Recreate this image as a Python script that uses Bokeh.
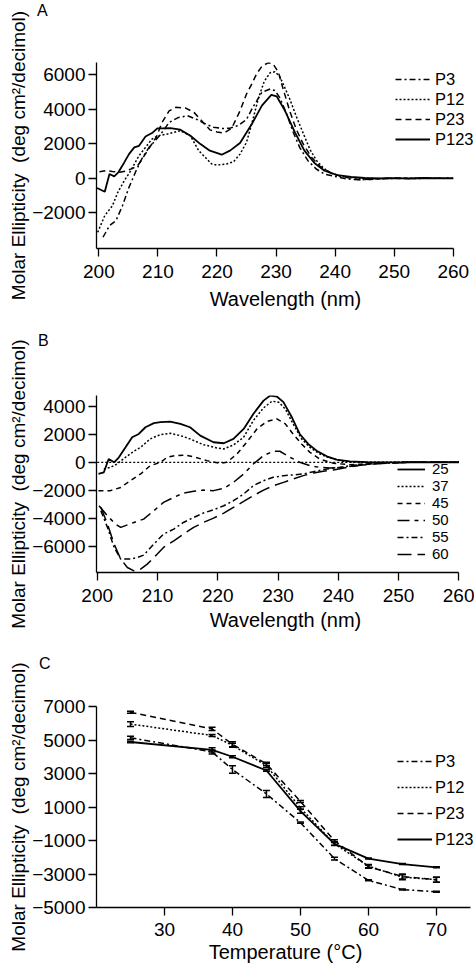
from bokeh.plotting import figure
from bokeh.layouts import column
from bokeh.models import (Legend, LegendItem, Whisker, TeeHead, ColumnDataSource,
                          FixedTicker, Range1d, Div)
from bokeh.embed import file_html
from bokeh.resources import INLINE

FONT = "Liberation Sans"
YLABEL = "Molar Ellipticity\u00a0 (deg cm\u00b2/decimol)"

# ---------------- Panel A data ----------------
a_p3_wl = [200.7, 201.8, 202.9, 204.0, 205.1, 206.3, 207.4, 208.5, 209.3, 210.5, 211.9, 213.5,
           215.0, 216.6, 218.0, 219.4, 220.8, 222.2, 223.6, 225.0, 225.9, 227.6, 229.0, 229.8,
           230.6, 231.8, 232.9, 234.0, 235.4, 236.8, 238.2, 239.9, 242.1, 244.3, 246.0, 248.0,
           250.0, 252.0, 254.0, 256.0, 258.0, 260.0]
a_p3_val = [-3400, -2730, -2440, -1580, -520, 440, 1210, 1790, 2080, 2560, 3230, 3520,
            3615, 3400, 3150, 2950, 2880, 2900, 3050, 3400, 4000, 4970, 5160, 5070,
            4680, 3720, 2660, 1790, 1020, 540, 250, 115, -40, -80, -60, -20,
            0, 20, -10, 10, 0, 0]

a_p12_wl = [199.8, 201.0, 202.3, 203.2, 204.3, 205.4, 206.8, 207.9, 209.0, 210.0, 211.6, 213.8,
            215.5, 216.9, 218.3, 219.1, 220.0, 221.6, 222.8, 223.9, 225.0, 226.0, 227.0, 228.0,
            229.0, 229.8, 230.6, 231.4, 232.3, 233.4, 234.6, 235.7, 236.8, 238.0, 239.3, 241.0,
            243.0, 245.0, 247.5, 250.0, 252.5, 255.0, 257.5, 260.0]
a_p12_val = [-3115, -2150, -1580, -810, -135, 440, 1310, 1790, 2270, 2460, 2560, 2750,
             2460, 1600, 1115, 830, 770, 830, 960, 1400, 2080, 3300, 4600, 5600,
             6100, 6150, 5900, 5300, 4600, 3600, 2600, 1700, 1050, 600, 300, 115,
             30, 0, -20, 10, 0, 20, 0, 0]

a_p23_wl = [200.1, 201.2, 202.3, 203.5, 204.5, 205.5, 206.5, 207.4, 208.6, 209.7, 210.7, 211.9,
            213.0, 214.7, 216.1, 217.4, 218.8, 220.0, 221.2, 222.5, 223.9, 225.0, 225.9, 226.7,
            227.6, 228.7, 229.5, 230.4, 231.2, 232.3, 233.4, 234.6, 236.0, 237.6, 239.3, 241.0,
            242.7, 244.3, 246.6, 249.0, 251.5, 254.0, 256.5, 260.0]
a_p23_val = [380, 450, 400, 350, 420, 550, 700, 1150, 1790, 2365, 3230, 3900,
             4100, 4060, 3810, 3330, 2800, 2680, 2620, 2900, 3900, 4870, 5450, 6030,
             6470, 6680, 6610, 6130, 5160, 3910, 2850, 1985, 1215, 640, 310, 115,
             0, -80, -20, 10, -10, 0, 10, 0]

a_p123_wl = [199.7, 201.0, 201.8, 202.6, 203.3, 204.3, 205.1, 206.0, 206.8, 207.9, 209.0, 209.9,
             210.7, 212.1, 213.8, 215.5, 217.2, 218.8, 220.8, 222.2, 223.9, 225.9, 227.6, 229.2,
             230.1, 231.5, 233.2, 234.8, 236.5, 238.2, 240.4, 242.7, 245.0, 247.5, 250.0, 252.5,
             255.0, 257.5, 260.0]
a_p123_val = [-560, -770, 250, 115, 350, 920, 1400, 1790, 1880, 2420, 2615, 2885,
              2885, 2900, 2810, 2460, 1980, 1600, 1365, 1600, 2040, 3140, 4200, 4820,
              4740, 3910, 2660, 1600, 890, 440, 190, 80, 20, 0, 10, -10,
              20, 0, 0]

a_xticks = [200, 210, 220, 230, 240, 250, 260]
a_yticks = [-2000, 0, 2000, 4000, 6000]

# ---------------- Panel B data ----------------
b_t25_wl = [200.2, 201.1, 201.9, 202.8, 203.6, 204.7, 205.8, 206.9, 208.0, 209.4, 210.5, 212.1,
            213.8, 215.4, 217.1, 219.3, 221.0, 222.6, 224.3, 225.9, 227.6, 228.7, 229.8, 230.9,
            232.3, 233.6, 235.0, 236.4, 238.1, 239.7, 241.9, 244.7, 248.0, 252.0, 256.0, 260.0]
b_t25_val = [-830, -710, 240, 0, 360, 1070, 1790, 2020, 2500, 2790, 2860, 2900,
             2740, 2500, 1900, 1430, 1360, 1670, 2380, 3450, 4400, 4760, 4690, 4290,
             3210, 2020, 1310, 830, 430, 190, 70, 20, 0, 0, 0, 0]

b_t37_wl = [201.1, 202.2, 203.3, 204.7, 206.1, 207.2, 208.8, 210.5, 212.1, 213.8, 215.4, 217.6,
            219.9, 221.0, 222.6, 224.3, 225.9, 227.6, 229.0, 230.1, 231.2, 232.5, 233.9, 235.3,
            236.9, 238.6, 240.8, 244.0, 248.0, 252.0, 256.0, 260.0]
b_t37_val = [-480, -360, -120, 360, 790, 1070, 1670, 1980, 2070, 1900, 1670, 1260,
             1020, 950, 1240, 1790, 2980, 3880, 4360, 4290, 3810, 2740, 1670, 1070,
             600, 310, 70, 0, 0, 0, 0, 0]

b_t45_wl = [200.2, 202.2, 203.9, 205.5, 207.2, 208.8, 210.5, 211.6, 213.0, 214.6, 216.3, 218.2,
            220.4, 221.5, 223.2, 224.8, 226.5, 228.1, 229.8, 231.2, 232.5, 233.9, 235.3, 236.9,
            239.2, 241.9, 244.7, 247.4, 251.0, 255.0, 260.0]
b_t45_val = [-2020, -2020, -1790, -1310, -830, -240, 0, 360, 480, 520, 360, 120,
             -70, 0, 600, 1430, 2380, 2900, 3100, 2740, 2020, 1310, 710, 240,
             -70, -170, -120, -50, 0, 0, 0]

b_t50_wl = [200.3, 201.7, 203.0, 203.9, 206.1, 207.7, 209.4, 211.0, 212.7, 214.3, 216.0, 217.6,
            219.3, 221.0, 222.6, 224.3, 225.9, 227.6, 229.2, 230.3, 232.0, 233.6, 235.3, 236.9,
            238.6, 240.8, 242.9, 245.2, 248.0, 252.0, 256.0, 260.0]
b_t50_val = [-3100, -3810, -4400, -4640, -4290, -4050, -3450, -2860, -2500, -2190, -2070, -1980,
             -2020, -1860, -1430, -830, -120, 480, 790, 790, 360, 0, -240, -360,
             -400, -360, -240, -120, -30, 0, 0, 0]

b_t55_wl = [200.6, 201.7, 202.8, 203.9, 205.5, 206.6, 207.7, 209.4, 211.0, 212.7, 214.3, 216.0,
            217.6, 219.3, 221.0, 222.6, 224.3, 225.9, 227.6, 229.2, 230.9, 232.5, 234.2, 235.9,
            238.1, 240.3, 242.5, 244.7, 247.4, 251.0, 255.0, 260.0]
b_t55_val = [-3450, -4640, -6070, -6900, -6900, -6790, -6620, -5830, -5120, -4760, -4290, -3930,
             -3620, -3380, -3100, -2740, -2260, -1670, -1310, -1070, -950, -900, -830, -670,
             -480, -360, -210, -120, -70, 0, 0, 0]

b_t60_wl = [200.6, 201.7, 202.8, 203.9, 205.0, 206.1, 207.2, 208.3, 209.4, 211.0, 212.7, 214.3,
            216.0, 217.6, 219.3, 221.0, 222.6, 224.3, 225.9, 227.6, 229.2, 230.9, 232.5, 234.2,
            235.9, 237.5, 239.2, 241.4, 243.6, 245.8, 248.5, 252.0, 256.0, 260.0]
b_t60_val = [-3210, -4400, -5830, -6900, -7500, -7740, -7620, -7260, -6790, -6070, -5600, -5120,
             -4640, -4290, -3980, -3620, -3210, -2790, -2380, -1980, -1670, -1430, -1190, -950,
             -760, -640, -550, -360, -210, -120, -50, 0, 0, 0]

b_xticks = [200, 210, 220, 230, 240, 250, 260]
b_yticks = [-6000, -4000, -2000, 0, 2000, 4000]
b_baseline = [0, 0]

# ---------------- Panel C data ----------------
c_temp = [25, 37, 40, 45, 50, 55, 60, 65, 70]
c_p3 = [5130, 4290, 3240, 1780, 65, -2080, -3380, -3930, -4060]
c_p3_err = [100, 120, 230, 210, 40, 80, 30, 30, 30]
c_p12 = [5950, 5270, 4680, 3470, 940, -1200, -2530, -3190, -3340]
c_p12_err = [140, 60, 120, 120, 80, 80, 100, 150, 150]
c_p23 = [6650, 5660, 4740, 3570, 1330, -1010, -2560, -3150, -3340]
c_p23_err = [60, 100, 150, 100, 60, 60, 100, 150, 150]
c_p123 = [4880, 4410, 4000, 3180, 750, -1200, -2080, -2410, -2600]
c_p123_err = [50, 130, 60, 50, 120, 100, 30, 30, 30]

c_xticks = [30, 40, 50, 60, 70]
c_yticks = [-5000, -3000, -1000, 1000, 3000, 5000, 7000]

DASH_P3 = "6 3 2 3"
DASH_P12 = "2 2"
DASH_P23 = "6 4"

W = 474


def panel_letter(letter, left, top):
    # zero-height block placed after its figure; the letter is shifted up onto the figure
    html = ('<div style="position:relative; left:%dpx; top:%dpx; font-family:\'%s\'; '
            'font-size:16px; line-height:16px; color:black; white-space:nowrap;">%s</div>'
            ) % (left, top, FONT, letter)
    return Div(text=html, width=W, height=0, margin=0,
               styles={"overflow": "visible", "z-index": "10"})


def make_fig(h, xr, yr, xbounds, left, top, bottom, xl_stand, xlab):
    p = figure(width=W, height=h, x_range=Range1d(*xr), y_range=Range1d(*yr),
               output_backend="svg", toolbar_location=None,
               min_border_left=left, min_border_right=0,
               min_border_top=top, min_border_bottom=bottom)
    p.outline_line_color = None
    p.xgrid.visible = False
    p.ygrid.visible = False
    p.background_fill_color = "white"
    p.border_fill_color = "white"
    for ax in (p.xaxis[0], p.yaxis[0]):
        ax.axis_line_color = "black"
        ax.axis_line_width = 1.3
        ax.major_tick_line_color = "black"
        ax.major_tick_line_width = 1.3
        ax.major_tick_in = 0
        ax.minor_tick_line_color = None
        ax.major_label_text_font = FONT
        ax.major_label_text_font_size = "19px"
        ax.major_label_text_color = "black"
        ax.axis_label_text_font = FONT
        ax.axis_label_text_font_style = "normal"
        ax.axis_label_text_color = "black"
    xa, ya = p.xaxis[0], p.yaxis[0]
    xa.bounds = xbounds
    xa.major_tick_out = 8
    xa.major_label_standoff = 8
    xa.axis_label = xlab
    xa.axis_label_text_font_size = "20px"
    xa.axis_label_standoff = xl_stand
    ya.major_tick_out = 8
    ya.major_label_standoff = 3
    ya.axis_label = YLABEL
    ya.axis_label_text_font_size = "19px"
    ya.axis_label_standoff = 0
    return p


def make_legend(items, loc, gw, gh, lh, spacing, standoff, fsize):
    return Legend(items=items, location=loc, glyph_width=gw, glyph_height=gh,
                  label_height=lh, spacing=spacing, label_standoff=standoff,
                  padding=0, margin=0, border_line_color=None,
                  background_fill_alpha=0, label_text_font=FONT,
                  label_text_font_size=fsize, label_text_color="black")


# ---------------- Panel A ----------------
H_A, H_B, H_C = 314, 324, 327
pa = make_fig(H_A, (199.6, 263.6), (-4050, 6690), (199.6, 260), 93, 62, 66,
              7, "Wavelength (nm)")
pa.xaxis[0].ticker = FixedTicker(ticks=a_xticks)
pa.yaxis[0].ticker = FixedTicker(ticks=a_yticks)
ra3 = pa.line(a_p3_wl, a_p3_val, line_color="black", line_width=1.5, line_dash=DASH_P3)
ra12 = pa.line(a_p12_wl, a_p12_val, line_color="black", line_width=1.5, line_dash=DASH_P12)
ra23 = pa.line(a_p23_wl, a_p23_val, line_color="black", line_width=1.5, line_dash=DASH_P23)
ra123 = pa.line(a_p123_wl, a_p123_val, line_color="black", line_width=1.8)
pa.add_layout(make_legend([LegendItem(label="P3", renderers=[ra3]),
                           LegendItem(label="P12", renderers=[ra12]),
                           LegendItem(label="P23", renderers=[ra23]),
                           LegendItem(label="P123", renderers=[ra123])],
                          (299, 99), 35, 20, 20, 0, 5, "16.5px"))
div_a = panel_letter("A", 37, 3 - H_A)

# ---------------- Panel B ----------------
pb = make_fig(H_B, (199.88, 262.6), (-7857, 4764), (199.88, 260), 96, 81, 66,
              4, "Wavelength (nm)")
pb.xaxis[0].ticker = FixedTicker(ticks=b_xticks)
pb.yaxis[0].ticker = FixedTicker(ticks=b_yticks)
pb.line([b_xticks[0], b_xticks[-1]], b_baseline, line_color="black", line_width=1.3,
        line_dash="2 2")
rb25 = pb.line(b_t25_wl, b_t25_val, line_color="black", line_width=1.8)
rb37 = pb.line(b_t37_wl, b_t37_val, line_color="black", line_width=1.5, line_dash="2 2")
rb45 = pb.line(b_t45_wl, b_t45_val, line_color="black", line_width=1.5, line_dash="5 4")
rb50 = pb.line(b_t50_wl, b_t50_val, line_color="black", line_width=1.5, line_dash="12 5 4 5")
rb55 = pb.line(b_t55_wl, b_t55_val, line_color="black", line_width=1.5, line_dash="6 3 2 3")
rb60 = pb.line(b_t60_wl, b_t60_val, line_color="black", line_width=1.5, line_dash="14 6")
pb.add_layout(make_legend([LegendItem(label="25", renderers=[rb25]),
                           LegendItem(label="37", renderers=[rb37]),
                           LegendItem(label="45", renderers=[rb45]),
                           LegendItem(label="50", renderers=[rb50]),
                           LegendItem(label="55", renderers=[rb55]),
                           LegendItem(label="60", renderers=[rb60])],
                          (301, 10), 28, 16, 16, 0, 7, "15px"))
div_b = panel_letter("B", 38, 19 - H_B)

# ---------------- Panel C ----------------
pc = make_fig(H_C, (20, 75.6), (-5000, 7000), (20, 75), 93, 68, 54,
              2, "Temperature (\u00b0C)")
pc.xaxis[0].ticker = FixedTicker(ticks=c_xticks)
pc.yaxis[0].ticker = FixedTicker(ticks=c_yticks)
pc.xaxis[0].major_label_standoff = 7

series = [("P3", c_p3, c_p3_err, DASH_P3), ("P12", c_p12, c_p12_err, DASH_P12),
          ("P23", c_p23, c_p23_err, DASH_P23), ("P123", c_p123, c_p123_err, "solid")]
c_items = []
for name, vals, errs, dash in series:
    src = ColumnDataSource(dict(t=c_temp, v=vals,
                                lo=[v - e for v, e in zip(vals, errs)],
                                hi=[v + e for v, e in zip(vals, errs)]))
    r = pc.line("t", "v", source=src, line_color="black",
                line_width=1.8 if dash == "solid" else 1.5, line_dash=dash)
    w = Whisker(source=src, base="t", lower="lo", upper="hi", line_color="black",
                line_width=1.5,
                upper_head=TeeHead(size=7, line_color="black", line_width=1.5),
                lower_head=TeeHead(size=7, line_color="black", line_width=1.5))
    pc.add_layout(w)
    c_items.append(LegendItem(label=name, renderers=[r]))
pc.add_layout(make_legend(c_items, (301, 58), 35, 20, 20, 6, 3, "16.5px"))
div_c = panel_letter("C", 39, 18 - H_C)

layout = column(pa, div_a, pb, div_b, pc, div_c, spacing=0)
open("out.html", "w").write(file_html(layout, INLINE))
